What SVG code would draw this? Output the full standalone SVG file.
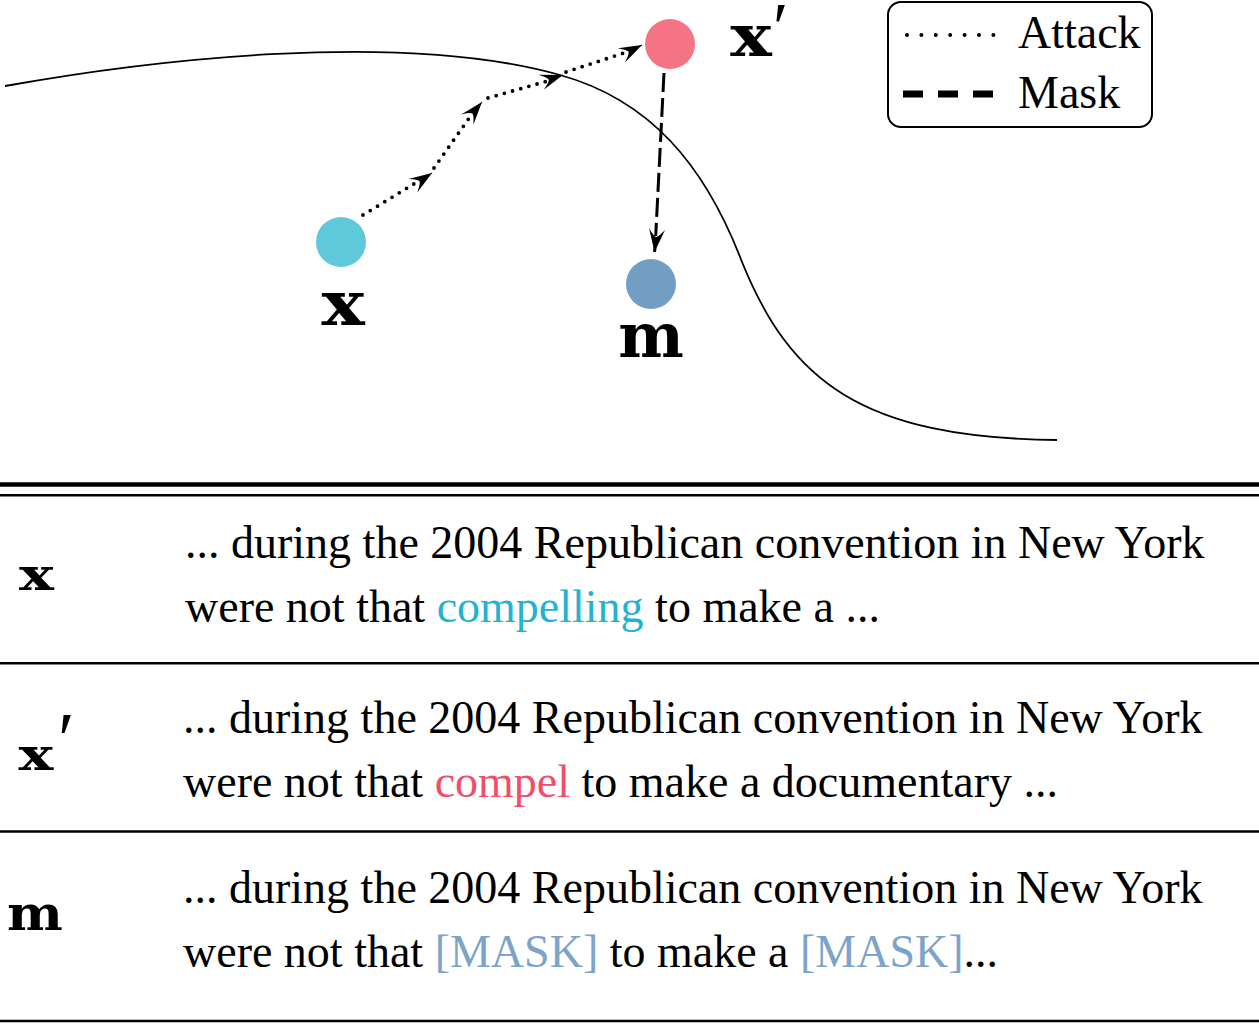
<svg xmlns="http://www.w3.org/2000/svg" width="1259" height="1024" viewBox="0 0 1259 1024">
<style>
.t{font-family:"Liberation Serif","Times New Roman",serif;font-size:46px;fill:#000}
.lab{font-family:"DejaVu Serif",serif;font-weight:bold;fill:#000}
.pr{font-family:"Liberation Serif",serif;font-weight:normal;fill:#000}
.atk{fill:none;stroke:#000;stroke-width:3.8;stroke-linecap:round;stroke-dasharray:0 8.5}
.msk{fill:none;stroke:#000;stroke-width:3;stroke-dasharray:19 6}
.rule{stroke:#000}
</style>
<defs>
<marker id="ah" viewBox="-24 -9 26 18" markerWidth="26" markerHeight="18" refX="0" refY="0" orient="auto" markerUnits="userSpaceOnUse">
<path d="M0,0 L-23,-8 Q-15,-2 -15,0 Q-15,2 -23,8 Z" fill="#000"/>
</marker>
</defs>
<rect width="1259" height="1024" fill="#fff"/>
<g id="boundary">
<path d="M5,86 C150,60 400,30 560,75 C650,100 705,165 742,262 C790,380 860,438 1057,440" fill="none" stroke="#000" stroke-width="1.8"/>
</g>
<g id="connectors">
<path class="atk" d="M363,215 L422,179"/>
<path class="atk" d="M434,168 L472,114"/>
<path class="atk" d="M488,98 L551,80"/>
<path class="atk" d="M566,72 L630,51"/>
<path d="M426,177 L432,173" stroke="#000" stroke-width="1" marker-end="url(#ah)"/>
<path d="M477,108 L482,102" stroke="#000" stroke-width="1" marker-end="url(#ah)"/>
<path d="M557,77 L563,75" stroke="#000" stroke-width="1" marker-end="url(#ah)"/>
<path d="M636,48 L642,45" stroke="#000" stroke-width="1" marker-end="url(#ah)"/>
<path class="msk" d="M664,73 L655.7,236"/>
<path d="M655.4,244 L654.5,252" stroke="#000" stroke-width="3" marker-end="url(#ah)"/>
</g>
<g id="node-x">
<circle cx="341" cy="242" r="25" fill="#5fc9dc"/>
<text class="lab" font-size="62" text-anchor="middle" transform="translate(343,325) scale(1.17,1)">x</text>
</g>
<g id="node-xprime">
<circle cx="670" cy="44" r="25" fill="#f47486"/>
<text class="lab" font-size="58" text-anchor="middle" transform="translate(751,56) scale(1.2,1)">x</text>
<text class="pr" x="773" y="51" font-size="70">′</text>
</g>
<g id="node-m">
<circle cx="651" cy="284" r="25" fill="#739ec3"/>
<text class="lab" x="651" y="357" font-size="62" text-anchor="middle">m</text>
</g>
<g id="legend">
<rect x="888" y="2" width="264" height="125" rx="13" fill="#fff" stroke="#000" stroke-width="2"/>
<path d="M907,35 L994,35" fill="none" stroke="#000" stroke-width="4" stroke-linecap="round" stroke-dasharray="0 14.4"/>
<text class="t" x="1018" y="48">Attack</text>
<path d="M903,94 L998,94" fill="none" stroke="#000" stroke-width="7" stroke-dasharray="20 15"/>
<text class="t" x="1018" y="108">Mask</text>
</g>
<g id="table">
<line class="rule" x1="0" y1="484.5" x2="1259" y2="484.5" stroke-width="4.5"/>
<line class="rule" x1="0" y1="495.3" x2="1259" y2="495.3" stroke-width="2.5"/>
<line class="rule" x1="0" y1="663.3" x2="1259" y2="663.3" stroke-width="2.5"/>
<line class="rule" x1="0" y1="831.5" x2="1259" y2="831.5" stroke-width="2.5"/>
<line class="rule" x1="0" y1="1021" x2="1259" y2="1021" stroke-width="2.5"/>
</g>
<g id="row-x">
<text class="lab" font-size="45" text-anchor="middle" transform="translate(36.5,590) scale(1.3,1)">x</text>
<text class="t" x="185" y="558">... during the 2004 Republican convention in New York</text>
<text class="t" x="185" y="622">were not that <tspan fill="#22b4cf">compelling</tspan> to make a ...</text>
</g>
<g id="row-xprime">
<text class="lab" font-size="45" text-anchor="middle" transform="translate(36,770) scale(1.3,1)">x</text>
<text class="pr" x="58" y="765" font-size="76">′</text>
<text class="t" x="183" y="733">... during the 2004 Republican convention in New York</text>
<text class="t" x="183" y="797">were not that <tspan fill="#ef4f69">compel</tspan> to make a documentary ...</text>
</g>
<g id="row-m">
<text class="lab" font-size="48" text-anchor="middle" transform="translate(35,930) scale(1.1,1)">m</text>
<text class="t" x="183" y="903">... during the 2004 Republican convention in New York</text>
<text class="t" x="183" y="967">were not that <tspan fill="#7ca4c8">[MASK]</tspan> to make a <tspan fill="#7ca4c8">[MASK]</tspan>...</text>
</g>
</svg>
